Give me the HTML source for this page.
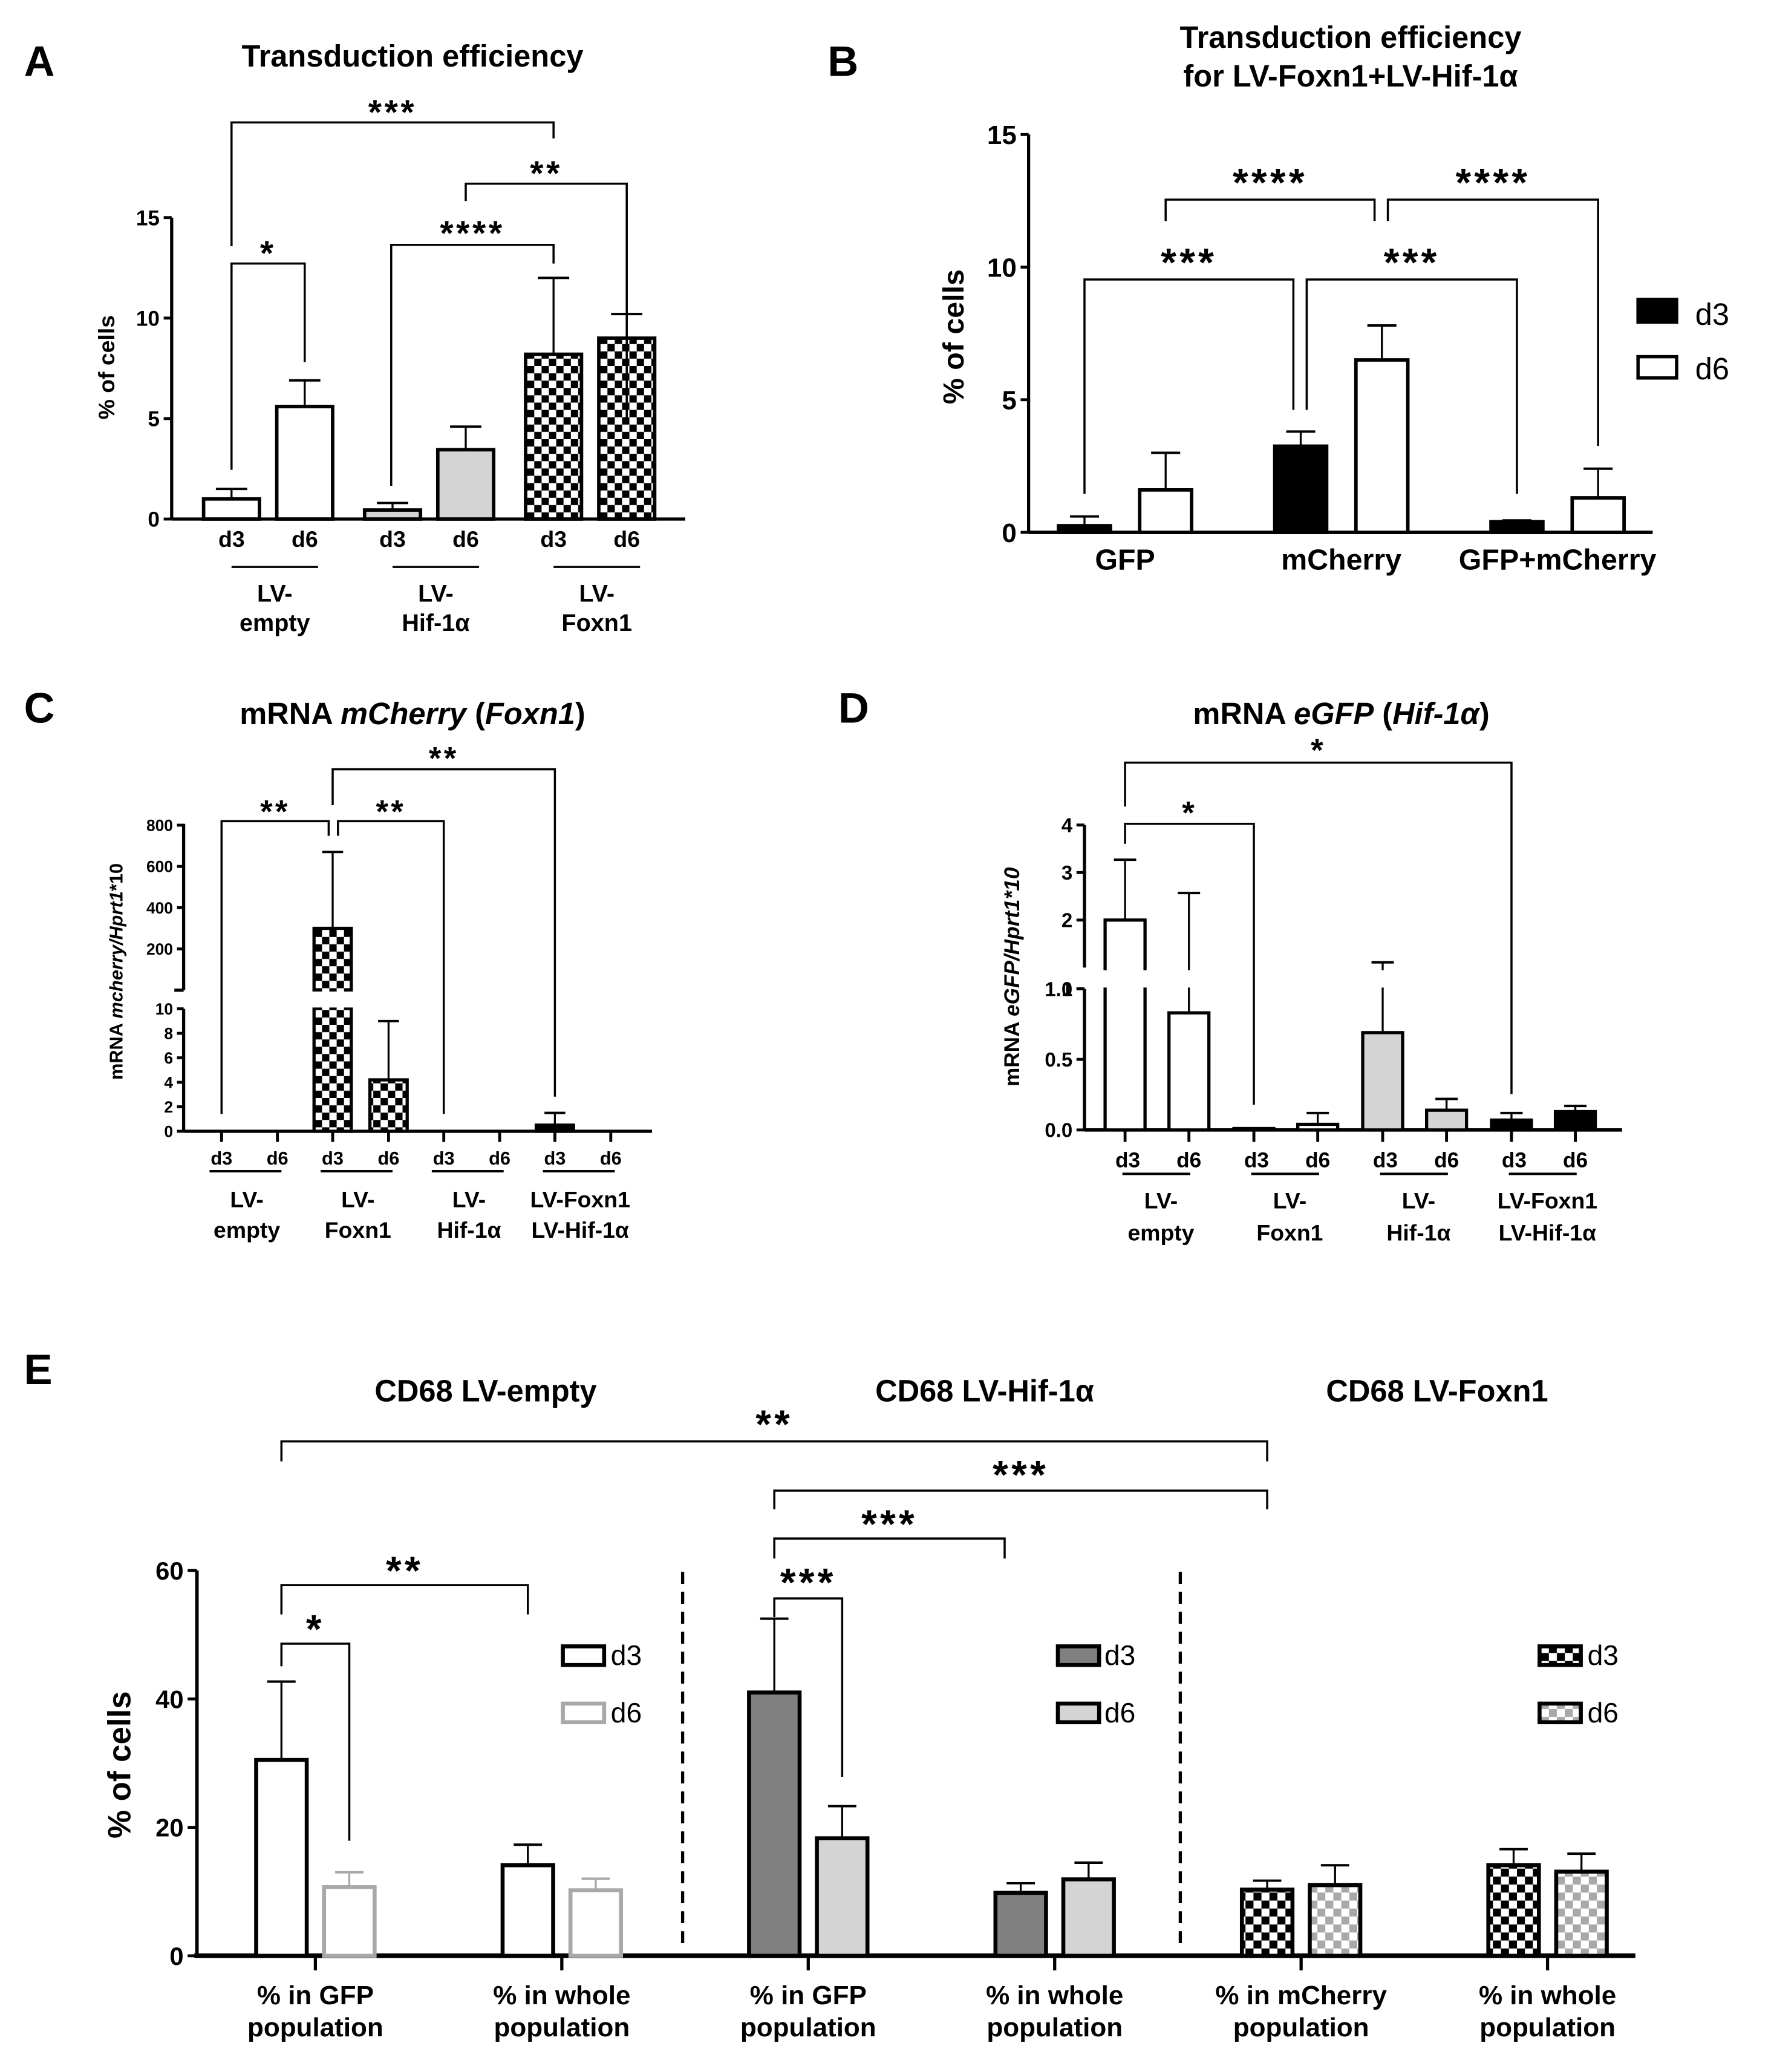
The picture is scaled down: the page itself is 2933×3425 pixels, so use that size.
<!DOCTYPE html>
<html><head><meta charset="utf-8"><title>Transduction figure</title>
<style>
html,body{margin:0;padding:0;background:#fff;}
svg{display:block;font-family:"Liberation Sans",Arial,sans-serif;}
</style></head>
<body>
<svg id="fig" xmlns="http://www.w3.org/2000/svg" width="2933" height="3425" viewBox="0 0 1333.18 1556.82">
<defs>
<pattern id="chk" patternUnits="userSpaceOnUse" width="11" height="11"><rect width="11" height="11" fill="#fff"/><rect width="5.5" height="5.5" fill="#000"/><rect x="5.5" y="5.5" width="5.5" height="5.5" fill="#000"/></pattern>
<pattern id="chkE" patternUnits="userSpaceOnUse" width="12" height="12"><rect width="12" height="12" fill="#fff"/><rect width="6" height="6" fill="#000"/><rect x="6" y="6" width="6" height="6" fill="#000"/></pattern>
<pattern id="chkG" patternUnits="userSpaceOnUse" width="12" height="12"><rect width="12" height="12" fill="#fff"/><rect width="6" height="6" fill="#a8a8a8"/><rect x="6" y="6" width="6" height="6" fill="#a8a8a8"/></pattern>
</defs>
<rect width="1333.18" height="1556.82" fill="#fff"/>
</svg>
<script>
// ---------- DATA ----------
// Panel A
const A_groups = ['LV-empty','LV-Hif-1α','LV-Foxn1'];
const A_d3 = [1.0, 0.45, 8.2];
const A_d3_err = [1.5, 0.8, 12.0];
const A_d6 = [5.6, 3.45, 9.0];
const A_d6_err = [6.9, 4.6, 10.2];
const A_ticks = [0, 5, 10, 15];
// Panel B
const B_categories = ['GFP','mCherry','GFP+mCherry'];
const B_d3 = [0.25, 3.25, 0.4];
const B_d3_err = [0.6, 3.8, 0.45];
const B_d6 = [1.6, 6.5, 1.3];
const B_d6_err = [3.0, 7.8, 2.4];
const B_ticks = [0, 5, 10, 15];
// Panel C
const C_groups = [['LV-','empty'],['LV-','Foxn1'],['LV-','Hif-1α'],['LV-Foxn1','LV-Hif-1α']];
const C_d3 = [0, 300, 0, 0.5];
const C_d3_err = [0, 670, 0, 1.5];
const C_d6 = [0, 4.2, 0, 0];
const C_d6_err = [0, 9, 0, 0];
const C_ticks_low = [0, 2, 4, 6, 8, 10];
const C_ticks_high = [200, 400, 600, 800];
// Panel D
const D_groups = [['LV-','empty'],['LV-','Foxn1'],['LV-','Hif-1α'],['LV-Foxn1','LV-Hif-1α']];
const D_d3 = [2.0, 0.01, 0.69, 0.07];
const D_d3_err = [3.27, 0.01, 1.11, 0.12];
const D_d6 = [0.83, 0.04, 0.14, 0.13];
const D_d6_err = [2.57, 0.12, 0.22, 0.17];
const D_ticks_low = ['0.0','0.5','1.0'];
const D_ticks_high = [1, 2, 3, 4];
// Panel E
const E_categories = [['% in GFP','population'],['% in whole','population'],['% in GFP','population'],['% in whole','population'],['% in mCherry','population'],['% in whole','population']];
const E_d3 = [30.5, 14.1, 41.0, 9.8, 10.3, 14.1];
const E_d3_err = [42.7, 17.3, 52.5, 11.3, 11.7, 16.6];
const E_d6 = [10.7, 10.2, 18.3, 11.9, 11.0, 13.1];
const E_d6_err = [13.0, 12.0, 23.3, 14.5, 14.1, 15.9];
const E_ticks = [0, 20, 40, 60];

// ---------- HELPERS ----------
const svg = document.getElementById('fig');
const NS = 'http://www.w3.org/2000/svg';
function mk(tag, attrs, name, parent) {
  const el = document.createElementNS(NS, tag);
  for (const k in attrs) el.setAttribute(k, attrs[k]);
  
  
  (parent || svg).appendChild(el);
  return el;
}
function txt(s, x, y, fs, name, opt) {
  const t = mk('text', Object.assign({x: x, y: y, 'font-size': fs, 'font-weight': 'bold', 'text-anchor': 'middle', fill: '#000'}, opt || {}), name);
  t.textContent = s;
  return t;
}
function line(x1, y1, x2, y2, sw, name, color) {
  return mk('line', {x1: x1, y1: y1, x2: x2, y2: y2, stroke: color || '#000', 'stroke-width': sw}, name);
}
function bracket(x1, x2, y, b1, b2, label, fs, starC, name) {
  const g = mk('g', {}, name);
  mk('path', {d: 'M' + x1 + ' ' + b1 + 'V' + y + 'H' + x2 + 'V' + b2, fill: 'none', stroke: '#000', 'stroke-width': 1.6}, name + '-line', g);
  const t = mk('text', {x: (x1 + x2) / 2, y: starC + 0.58 * fs, 'font-size': fs, 'font-weight': 'bold', 'text-anchor': 'middle', 'letter-spacing': fs * 0.08}, name + '-label', g);
  t.textContent = label;
}
function bars(vals, errs, xf, yf, s, fillf, strokef, bw, sw, name) {
  vals.forEach(function (v, i) {
    const x = xf(i, s), y0 = yf(0), y1 = yf(v);
    const r = mk('rect', {x: x - bw / 2, y: y1, width: bw, height: Math.max(0, y0 - y1), fill: fillf(i), stroke: strokef(i), 'stroke-width': sw}, name + '-bar-' + i);
    if (errs[i] > v) {
      const ye = yf(errs[i]);
      line(x, y1, x, ye, 1.5, name + '-errorbar-' + i, strokef(i));
      line(x - bw * 0.28, ye, x + bw * 0.28, ye, 1.8, name + '-errorcap-' + i, strokef(i));
    }
  });
}
function yticks(vals, labels, ax, yf, fs, name, len) {
  vals.forEach(function (v, i) {
    const y = yf(v);
    line(ax - (len || 6), y, ax, y, 2.2, name + '-tick-' + i);
    txt(String(labels ? labels[i] : v), ax - (len || 6) - 3, y + fs * 0.36, fs, name + '-label-' + i, {'text-anchor': 'end'});
  });
}
function rotLabel(x, y, fs, parts, name) {
  const t = mk('text', {x: x, y: y, 'font-size': fs, 'font-weight': 'bold', 'text-anchor': 'middle', transform: 'rotate(-90 ' + x + ' ' + y + ')'}, name);
  parts.forEach(function (p, i) {
    const s = mk('tspan', p[1] ? {'font-style': 'italic'} : {}, name + '-part-' + i, t);
    s.textContent = p[0];
  });
  return t;
}

// ---------- PANEL LETTERS ----------
txt('A', 18, 57, 32, 'panel-letter-a', {'text-anchor': 'start'});
txt('B', 622, 57, 32, 'panel-letter-b', {'text-anchor': 'start'});
txt('C', 18, 543, 32, 'panel-letter-c', {'text-anchor': 'start'});
txt('D', 630, 543, 32, 'panel-letter-d', {'text-anchor': 'start'});
txt('E', 18, 1040, 32, 'panel-letter-e', {'text-anchor': 'start'});

// ---------- PANEL A ----------
(function () {
  const ax = 129, y0 = 390, per = 15.1;
  const yA = function (v) { return y0 - v * per; };
  const xA = function (i, s) { return 201.5 + i * 121 + (s ? 27.5 : -27.5); };
  txt('Transduction efficiency', 310, 50, 23, 'panel-a-title');
  line(ax, yA(15), ax, y0, 2.4, 'panel-a-y-axis');
  line(ax, y0, 515, y0, 2.4, 'panel-a-x-axis');
  yticks(A_ticks, null, ax, yA, 16, 'panel-a-y');
  rotLabel(86, 276, 17, [['% of cells']], 'panel-a-y-axis-title');
  const fillA = function (i) { return i === 0 ? '#fff' : (i === 1 ? '#d4d4d4' : 'url(#chk)'); };
  const blk = function () { return '#000'; };
  bars(A_d3, A_d3_err, xA, yA, 0, fillA, blk, 42, 2.6, 'panel-a-d3');
  bars(A_d6, A_d6_err, xA, yA, 1, fillA, blk, 42, 2.6, 'panel-a-d6');
  A_groups.forEach(function (g, i) {
    txt('d3', xA(i, 0), 411, 17, 'panel-a-xlabel-d3-' + i);
    txt('d6', xA(i, 1), 411, 17, 'panel-a-xlabel-d6-' + i);
    line(xA(i, 0), 426, xA(i, 1) + 10, 426, 1.5, 'panel-a-group-line-' + i);
    const parts = g.split('-');
    txt(parts[0] + '-', (xA(i, 0) + xA(i, 1)) / 2 + 5, 452, 18, 'panel-a-group-label1-' + i);
    txt(parts.slice(1).join('-'), (xA(i, 0) + xA(i, 1)) / 2 + 5, 474, 18, 'panel-a-group-label2-' + i);
  });
  bracket(xA(0, 0), xA(2, 0), 92, 185, 104, '***', 26, 78, 'panel-a-sig-1');
  bracket(350, xA(2, 1), 138, 151, 314, '**', 26, 124, 'panel-a-sig-2');
  bracket(294, xA(2, 0), 184, 365, 198, '****', 26, 169, 'panel-a-sig-3');
  bracket(xA(0, 0), xA(0, 1), 198, 353, 272, '*', 26, 184, 'panel-a-sig-4');
})();

// ---------- PANEL B ----------
(function () {
  const ax = 773, y0 = 400, per = 19.93;
  const yB = function (v) { return y0 - v * per; };
  const xB = function (i, s) { return 845.5 + i * 162.5 + (s ? 30.5 : -30.5); };
  txt('Transduction efficiency', 1015, 36, 23, 'panel-b-title-line1');
  txt('for LV-Foxn1+LV-Hif-1α', 1015, 65, 23, 'panel-b-title-line2');
  line(ax, yB(15), ax, y0, 2.4, 'panel-b-y-axis');
  line(ax, y0, 1242, y0, 2.6, 'panel-b-x-axis');
  yticks(B_ticks, null, ax, yB, 20, 'panel-b-y');
  rotLabel(724, 253, 22, [['% of cells']], 'panel-b-y-axis-title');
  const f3 = function () { return '#000'; }, f6 = function () { return '#fff'; };
  bars(B_d3, B_d3_err, xB, yB, 0, f3, f3, 39, 2.6, 'panel-b-d3');
  bars(B_d6, B_d6_err, xB, yB, 1, f6, f3, 39, 2.6, 'panel-b-d6');
  B_categories.forEach(function (c, i) {
    txt(c, (xB(i, 0) + xB(i, 1)) / 2, 428, 22, 'panel-b-xlabel-' + i);
  });
  mk('rect', {x: 1231, y: 225, width: 29, height: 17, fill: '#000', stroke: '#000', 'stroke-width': 2.5}, 'panel-b-legend-d3-swatch');
  txt('d3', 1274, 244, 23, 'panel-b-legend-d3-label', {'text-anchor': 'start', 'font-weight': 'normal'});
  mk('rect', {x: 1231, y: 268, width: 29, height: 16, fill: '#fff', stroke: '#000', 'stroke-width': 2.5}, 'panel-b-legend-d6-swatch');
  txt('d6', 1274, 285, 23, 'panel-b-legend-d6-label', {'text-anchor': 'start', 'font-weight': 'normal'});
  bracket(xB(0, 1), 1033, 150, 166, 166, '****', 30, 130, 'panel-b-sig-1');
  bracket(1043, xB(2, 1), 150, 166, 335, '****', 30, 130, 'panel-b-sig-2');
  bracket(xB(0, 0), 972, 210, 371, 308, '***', 30, 190, 'panel-b-sig-3');
  bracket(982, xB(2, 0), 210, 308, 371, '***', 30, 190, 'panel-b-sig-4');
})();

// ---------- PANEL C ----------
(function () {
  const ax = 138, y0 = 850;
  const yC = function (v) { return v <= 10 ? y0 - v * 9.2 : 744 - v * 0.155; };
  const xC = function (i, s) { return 187.5 + i * 83.5 + (s ? 21 : -21); };
  const t = txt('', 310, 544, 23, 'panel-c-title');
  [['mRNA ', 0], ['mCherry', 1], [' (', 0], ['Foxn1', 1], [')', 0]].forEach(function (p, i) {
    const s = mk('tspan', p[1] ? {'font-style': 'italic'} : {}, 'panel-c-title-part-' + i, t);
    s.textContent = p[0];
  });
  line(ax, 758, ax, y0, 2.4, 'panel-c-y-axis-lower');
  line(ax, 619, ax, 744, 2.4, 'panel-c-y-axis-upper');
  line(ax - 7, 744, ax, 744, 2.4, 'panel-c-axis-break-top');
  line(ax, y0, 490, y0, 2.4, 'panel-c-x-axis');
  yticks(C_ticks_low, null, ax, yC, 12, 'panel-c-y-low', 5);
  yticks(C_ticks_high, null, ax, yC, 12, 'panel-c-y-high', 5);
  rotLabel(92, 730, 14, [['mRNA '], ['mcherry/Hprt1', 1], ['*10']], 'panel-c-y-axis-title');
  const fillC = function (i) { return i === 3 ? '#000' : 'url(#chk)'; };
  const blk = function () { return '#000'; };
  bars(C_d3, C_d3_err, xC, yC, 0, fillC, blk, 28, 2.4, 'panel-c-d3');
  bars(C_d6, C_d6_err, xC, yC, 1, fillC, blk, 28, 2.4, 'panel-c-d6');
  [C_d3, C_d6].forEach(function (arr, s) {
    arr.forEach(function (v, i) {
      if (v > 10) mk('rect', {x: xC(i, s) - 18, y: 745, width: 36, height: 12, fill: '#fff'}, 'panel-c-break-gap-' + s + '-' + i);
    });
  });
  C_groups.forEach(function (g, i) {
    line(xC(i, 0), y0, xC(i, 0), y0 + 8, 2.2, 'panel-c-xtick-d3-' + i);
    line(xC(i, 1), y0, xC(i, 1), y0 + 8, 2.2, 'panel-c-xtick-d6-' + i);
    txt('d3', xC(i, 0), 875, 14, 'panel-c-xlabel-d3-' + i);
    txt('d6', xC(i, 1), 875, 14, 'panel-c-xlabel-d6-' + i);
    line(xC(i, 0) - 9, 880, xC(i, 1) + 3, 880, 1.8, 'panel-c-group-line-' + i);
    txt(g[0], (xC(i, 0) + xC(i, 1)) / 2 - 2, 907, 17, 'panel-c-group-label1-' + i);
    txt(g[1], (xC(i, 0) + xC(i, 1)) / 2 - 2, 930, 17, 'panel-c-group-label2-' + i);
  });
  bracket(xC(1, 0), xC(3, 0), 578, 605, 824, '**', 24, 564, 'panel-c-sig-1');
  bracket(xC(0, 0), 247, 617, 837, 628, '**', 24, 604, 'panel-c-sig-2');
  bracket(254, xC(2, 0), 617, 628, 837, '**', 24, 604, 'panel-c-sig-3');
})();

// ---------- PANEL D ----------
(function () {
  const ax = 815, y0 = 849;
  const yD = function (v) { return v <= 1 ? y0 - v * 106 : 727 - (v - 1) * 35.7; };
  const xD = function (i, s) { return 869.5 + i * 96.8 + (s ? 24 : -24); };
  const t = txt('', 1008, 544, 23, 'panel-d-title');
  [['mRNA ', 0], ['eGFP', 1], [' (', 0], ['Hif-1α', 1], [')', 0]].forEach(function (p, i) {
    const s = mk('tspan', p[1] ? {'font-style': 'italic'} : {}, 'panel-d-title-part-' + i, t);
    s.textContent = p[0];
  });
  line(ax, 743, ax, y0, 2.4, 'panel-d-y-axis-lower');
  line(ax, 620, ax, 727, 2.4, 'panel-d-y-axis-upper');
  line(ax, y0, 1219, y0, 2.6, 'panel-d-x-axis');
  yticks([0, 0.5, 1.0], D_ticks_low, ax, yD, 15, 'panel-d-y-low', 6);
  yticks(D_ticks_high, null, ax, yD, 15, 'panel-d-y-high', 6);
  rotLabel(766, 734, 16, [['mRNA '], ['eGFP/Hprt1*10', 1]], 'panel-d-y-axis-title');
  const fillD = function (i) { return ['#fff', '#fff', '#d4d4d4', '#000'][i]; };
  const blk = function () { return '#000'; };
  bars(D_d3, D_d3_err, xD, yD, 0, fillD, blk, 30, 2.4, 'panel-d-d3');
  bars(D_d6, D_d6_err, xD, yD, 1, fillD, blk, 30, 2.4, 'panel-d-d6');
  [[D_d3, D_d3_err], [D_d6, D_d6_err]].forEach(function (pair, s) {
    pair[0].forEach(function (v, i) {
      if (v > 1 || pair[1][i] > 1) mk('rect', {x: xD(i, s) - 19, y: 729, width: 38, height: 13, fill: '#fff'}, 'panel-d-break-gap-' + s + '-' + i);
    });
  });
  D_groups.forEach(function (g, i) {
    line(xD(i, 0), y0, xD(i, 0), y0 + 9, 2.2, 'panel-d-xtick-d3-' + i);
    line(xD(i, 1), y0, xD(i, 1), y0 + 9, 2.2, 'panel-d-xtick-d6-' + i);
    txt('d3', xD(i, 0) + 2, 877, 16, 'panel-d-xlabel-d3-' + i);
    txt('d6', xD(i, 1), 877, 16, 'panel-d-xlabel-d6-' + i);
    line(xD(i, 0) - 2, 882, xD(i, 1) + 1, 882, 1.8, 'panel-d-group-line-' + i);
    txt(g[0], (xD(i, 0) + xD(i, 1)) / 2 + 3, 908, 17, 'panel-d-group-label1-' + i);
    txt(g[1], (xD(i, 0) + xD(i, 1)) / 2 + 3, 932, 17, 'panel-d-group-label2-' + i);
  });
  bracket(xD(0, 0), xD(3, 0), 573, 606, 822, '*', 24, 558, 'panel-d-sig-1');
  bracket(xD(0, 0), xD(1, 0), 619, 634, 830, '*', 24, 605, 'panel-d-sig-2');
})();

// ---------- PANEL E ----------
(function () {
  const ax = 148, y0 = 1469.5, per = 4.825;
  const yE = function (v) { return y0 - v * per; };
  const xE = function (i, s) { return 237 + i * 185.2 + (s ? 25.5 : -25.5); };
  txt('CD68 LV-empty', 365, 1053, 23, 'panel-e-title-empty');
  txt('CD68 LV-Hif-1α', 740, 1053, 23, 'panel-e-title-hif');
  txt('CD68 LV-Foxn1', 1080, 1053, 23, 'panel-e-title-foxn1');
  line(ax, yE(60), ax, y0, 2.6, 'panel-e-y-axis');
  line(ax - 2, y0, 1229, y0, 3.5, 'panel-e-x-axis');
  yticks(E_ticks, null, ax, yE, 19, 'panel-e-y', 7);
  rotLabel(98, 1326, 24, [['% of cells']], 'panel-e-y-axis-title');
  [513, 887].forEach(function (x, i) {
    mk('line', {x1: x, y1: 1181, x2: x, y2: 1465, stroke: '#000', 'stroke-width': 2.4, 'stroke-dasharray': '9 6'}, 'panel-e-divider-' + i);
  });
  const fill3 = function (i) { return i < 2 ? '#fff' : (i < 4 ? '#808080' : 'url(#chkE)'); };
  const fill6 = function (i) { return i < 2 ? '#fff' : (i < 4 ? '#d4d4d4' : 'url(#chkG)'); };
  const st3 = function () { return '#000'; };
  const st6 = function (i) { return i < 2 ? '#a8a8a8' : '#000'; };
  bars(E_d3, E_d3_err, xE, yE, 0, fill3, st3, 38, 3, 'panel-e-d3');
  bars(E_d6, E_d6_err, xE, yE, 1, fill6, st6, 38, 3, 'panel-e-d6');
  E_categories.forEach(function (c, i) {
    const cx = (xE(i, 0) + xE(i, 1)) / 2;
    line(cx, y0, cx, y0 + 11, 2.4, 'panel-e-xtick-' + i);
    txt(c[0], cx, 1506, 20, 'panel-e-xlabel1-' + i);
    txt(c[1], cx, 1530, 20, 'panel-e-xlabel2-' + i);
  });
  const legs = [
    [423, 459, '#fff', '#000', '#fff', '#a8a8a8'],
    [795, 830, '#808080', '#000', '#d4d4d4', '#000'],
    [1157, 1193, 'url(#chkE)', '#000', 'url(#chkG)', '#000']
  ];
  legs.forEach(function (l, i) {
    mk('rect', {x: l[0], y: 1237, width: 31, height: 14, fill: l[2], stroke: l[3], 'stroke-width': 3}, 'panel-e-legend-d3-swatch-' + i);
    txt('d3', l[1], 1251, 21, 'panel-e-legend-d3-label-' + i, {'text-anchor': 'start', 'font-weight': 'normal'});
    mk('rect', {x: l[0], y: 1280, width: 31, height: 14, fill: l[4], stroke: l[5], 'stroke-width': 3}, 'panel-e-legend-d6-swatch-' + i);
    txt('d6', l[1], 1294, 21, 'panel-e-legend-d6-label-' + i, {'text-anchor': 'start', 'font-weight': 'normal'});
  });
  bracket(xE(0, 0), xE(4, 0), 1083, 1098, 1098, '**', 30, 1063, 'panel-e-sig-1');
  bracket(xE(2, 0), xE(4, 0), 1120, 1134, 1134, '***', 30, 1101, 'panel-e-sig-2');
  bracket(xE(2, 0), 755, 1156, 1171, 1171, '***', 30, 1138, 'panel-e-sig-3');
  bracket(xE(0, 0), xE(1, 0), 1191, 1213, 1213, '**', 30, 1173, 'panel-e-sig-4');
  bracket(xE(0, 0), xE(0, 1), 1235, 1252, 1383, '*', 30, 1217, 'panel-e-sig-5');
  bracket(xE(2, 0), xE(2, 1), 1201, 1215, 1335, '***', 30, 1182, 'panel-e-sig-6');
})();
</script>
</body></html>
